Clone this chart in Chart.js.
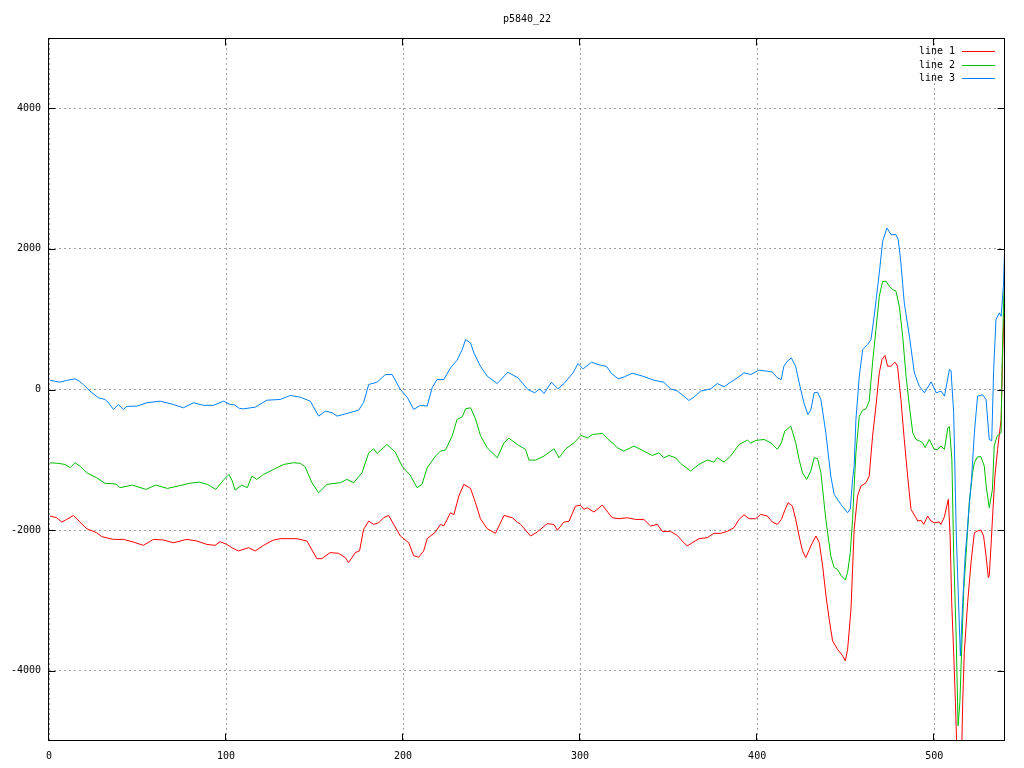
<!DOCTYPE html>
<html>
<head>
<meta charset="utf-8">
<title>p5840_22</title>
<script src="https://cdn.jsdelivr.net/npm/chart.js@4.4.1/dist/chart.umd.min.js"></script>
<style>
  html, body { margin: 0; padding: 0; background: #fff; }
  canvas { display: block; }
</style>
</head>
<body>
<canvas id="chart" width="1024" height="768"></canvas>
<script>
const chartTitle = 'p5840_22';
const seriesNames = ['line 1', 'line 2', 'line 3'];
const seriesColors = ['#ff0000', '#00c000', '#0080ff'];
const xTicks = [0, 100, 200, 300, 400, 500];
const yTicks = [-4000, -2000, 0, 2000, 4000];

// [x, y] pairs
const line1 = [
    [0.6, -1800], [4.4, -1824], [7.2, -1886], [10, -1848], [13.8, -1791], [17.5, -1886], [21.3, -1980],
    [26.9, -2037], [29.8, -2093], [36.4, -2132], [42, -2132], [47.7, -2170], [53.3, -2217], [59, -2132],
    [64.6, -2140], [70.3, -2180], [77.8, -2132], [83.5, -2155], [89.1, -2203], [93.8, -2217], [96.6, -2165],
    [100.4, -2203], [103.2, -2250], [107, -2297], [112.7, -2250], [116.5, -2297], [121.2, -2217], [126.8, -2141],
    [130.6, -2122], [136.3, -2122], [140, -2122], [145.7, -2155], [151.3, -2406], [154.1, -2406], [158.8, -2320],
    [163.5, -2330], [167.3, -2390], [169.2, -2463], [173, -2320], [175.4, -2297], [177.7, -1990], [180.6, -1871],
    [183.4, -1919], [186.2, -1895], [189, -1824], [191.9, -1791], [194.7, -1919], [198.5, -2084], [203.2, -2180],
    [206, -2363], [208.8, -2387], [211.6, -2297], [213.6, -2122], [218.3, -2027], [221.1, -1919], [223, -1940],
    [226.8, -1753], [228.7, -1780], [231.5, -1516], [234.3, -1350], [238.1, -1407], [240.9, -1610], [243.7, -1838],
    [247.5, -1980], [252.2, -2046], [257, -1791], [261.7, -1824], [264.5, -1886], [266.4, -1919], [272, -2084],
    [275.8, -2027], [281.4, -1909], [285.2, -1919], [287.1, -2004], [290.8, -1886], [293.7, -1876], [297.4, -1658],
    [300.3, -1649], [302.1, -1705], [304, -1682], [307.8, -1743], [312.5, -1644], [318.1, -1824], [321.9, -1838],
    [326.6, -1824], [331.3, -1848], [336, -1848], [339.8, -1942], [343.6, -1919], [346.4, -2018], [351.1, -2018],
    [354.8, -2075], [357.7, -2155], [360.5, -2226], [363.3, -2180], [367.1, -2122], [371.8, -2108], [375.6, -2046],
    [379.4, -2046], [383.1, -2018], [386.9, -1966], [389.8, -1848], [392.6, -1781], [395.4, -1838], [399.2, -1838],
    [402, -1776], [405.7, -1800], [408.6, -1886], [411.4, -1919], [413.7, -1848], [415.6, -1719], [417.5, -1610],
    [419.9, -1658], [421.8, -1848], [423.7, -2084], [425.6, -2297], [427.5, -2392], [430.3, -2226], [433.2, -2084],
    [435.1, -2179], [437, -2510], [438.9, -2937], [440.7, -3268], [442.6, -3576], [445.4, -3695], [448.3, -3790],
    [449.8, -3861], [451.1, -3695], [453, -3126], [453.9, -2558], [454.8, -1990], [456.7, -1516], [458.6, -1374],
    [461.5, -1326], [463.3, -1232], [465.2, -663], [467.1, -237], [469, 237], [470.5, 426], [472.2, 483],
    [473.7, 331], [475.6, 331], [477.9, 388], [479.3, 331], [481.2, -142], [483.1, -710], [485, -1232],
    [486.9, -1705], [489.7, -1824], [490.7, -1871], [492.6, -1860], [494.1, -1919], [496.3, -1800], [498.2, -1871],
    [500, -1895], [502.9, -1885], [503.8, -1919], [505.8, -1810], [507.1, -1658], [508, -1563], [509, -2084],
    [509.9, -3031], [511, -3742], [512, -4452], [513, -5300], [514.5, -5400], [515.5, -5200], [516.1, -4452],
    [517, -3742], [518.9, -3031], [520.8, -2463], [522.7, -2037], [524.5, -2013], [526.4, -2000], [527.9, -2084],
    [529.3, -2368], [530.6, -2676], [531.1, -2650], [532.1, -2226], [533, -1800], [534.3, -1232], [535.8, -853],
    [537.8, -426], [538.7, 521], [540, 1468]
];
const line2 = [
    [0.6, -1042], [5, -1050], [9.1, -1066], [11.9, -1113], [14.7, -1042], [17.5, -1090], [21.3, -1184],
    [26.9, -1255], [31.7, -1336], [36, -1340], [38.3, -1350], [40, -1397], [47.1, -1360], [54.7, -1421],
    [60.3, -1360], [66.9, -1407], [73.5, -1370], [79.2, -1336], [84.8, -1317], [89.5, -1350], [94.2, -1421],
    [98.9, -1279], [101.7, -1208], [103.5, -1300], [105.1, -1431], [108.9, -1360], [112, -1397], [114.6, -1232],
    [117.4, -1279], [121.2, -1208], [126.8, -1137], [132.5, -1066], [138.1, -1042], [141.9, -1050], [144.7, -1100],
    [148.5, -1326], [152.3, -1468], [157, -1350], [159.9, -1340], [164.6, -1326], [168.3, -1279], [172.1, -1326],
    [176.8, -1184], [180.6, -900], [183.4, -843], [185.3, -910], [190.9, -782], [195.6, -891], [199.4, -1090],
    [204.1, -1222], [207.9, -1397], [210.7, -1350], [213.6, -1113], [218.3, -947], [221.1, -876], [223.9, -862],
    [227.7, -663], [230.5, -426], [233.4, -388], [235.3, -275], [238.1, -260], [240.9, -417], [243.7, -654],
    [247.5, -829], [253.2, -971], [257, -758], [259.8, -692], [264.5, -782], [269.2, -852], [271.1, -1004],
    [274.9, -1004], [279.6, -947], [285.3, -843], [288.1, -971], [291.9, -843], [296.6, -758], [300.4, -654],
    [304.2, -687], [307, -640], [312.7, -625], [315.5, -701], [319.3, -782], [321, -829], [324.7, -876],
    [330.4, -805], [336, -876], [340.8, -938], [344.5, -900], [347.3, -971], [350.2, -938], [353.9, -971],
    [356.8, -1052], [362.4, -1160], [367.1, -1066], [371.8, -1004], [375.6, -1033], [377.5, -971], [381.3, -1033],
    [385, -947], [389.8, -782], [394.5, -720], [396.4, -763], [399.2, -725], [403.9, -711], [407.7, -758],
    [411.4, -852], [413.7, -758], [415.6, -592], [419, -521], [421.8, -758], [423.7, -995], [425.6, -1184],
    [428, -1279], [430.3, -1160], [432.2, -971], [434.1, -982], [436, -1184], [438.8, -1847], [441.6, -2368],
    [443.5, -2534], [445.4, -2558], [447.3, -2643], [449.8, -2709], [451.1, -2600], [452.6, -2321], [453.9, -1847],
    [454.8, -1374], [455.8, -900], [457.7, -379], [459.6, -294], [461.5, -275], [463.3, -166], [465.2, 379],
    [467.1, 853], [469, 1326], [470.9, 1539], [472.8, 1539], [474.7, 1468], [476.6, 1421], [478.4, 1400],
    [480.3, 1184], [482.2, 758], [484.1, 190], [486, -237], [487.9, -616], [489.7, -710], [491.6, -730],
    [493.5, -758], [494.9, -829], [497.2, -710], [499.1, -805], [500, -852], [502, -852], [503.8, -805],
    [505.8, -852], [507.7, -545], [508.6, -530], [510, -1000], [511, -2321], [512.4, -3505], [513.5, -4784],
    [514.5, -4452], [515.4, -3790], [516.7, -2842], [518.1, -2321], [519.8, -1610], [521.7, -1184], [522.7, -1042],
    [524.5, -957], [526.4, -957], [528.3, -1090], [529.5, -1400], [531.1, -1681], [532.9, -1421], [533.9, -805],
    [535.5, -663], [537.8, -616], [538.4, 379], [539.2, 1232], [540, 1752]
];
const line3 = [
    [0.6, 132], [3, 120], [6.2, 104], [10, 130], [14.7, 152], [17, 120], [19.4, 71], [23.2, -24], [27.9, -118],
    [31.7, -142], [34, -200], [36.4, -284], [39.2, -213], [42, -284], [44, -240], [49.6, -237], [55.2, -189],
    [62.8, -166], [70.3, -213], [75.9, -260], [81.6, -189], [87.3, -225], [92.9, -225], [98.6, -166], [102.3, -213],
    [105, -220], [107.6, -270], [109.9, -275], [116.5, -251], [123.1, -152], [130.6, -142], [136.3, -85],
    [141.9, -109], [147.6, -166], [152.3, -379], [156.1, -308], [159.9, -330], [162.7, -379], [168.3, -341],
    [174.9, -294], [177.7, -185], [180.6, 71], [185.3, 104], [190, 213], [193.8, 213], [198.5, 0], [202.3, -109],
    [206, -284], [209.8, -225], [213.6, -237], [216.4, 24], [219.2, 142], [223, 142], [226.8, 308], [230.5, 417],
    [233.4, 568], [235.3, 710], [238.1, 663], [240, 521], [243.7, 331], [247.5, 190], [253.2, 85], [259.2, 246],
    [264.9, 166], [270.5, 0], [274.3, -47], [277.1, 9], [279.6, -57], [283.8, 104], [287.5, 9], [291.3, 95],
    [296, 237], [298.8, 369], [301.7, 293], [306.4, 388], [312, 341], [314.9, 330], [317.7, 227], [321.5, 152],
    [325, 180], [329.4, 232], [336, 185], [341.7, 132], [347.3, 104], [351.1, 9], [354.8, -19], [358.6, -95],
    [361.4, -156], [364.3, -109], [368, -24], [373.7, 9], [377.5, 85], [381.3, 38], [385, 104], [388.8, 166],
    [392.6, 237], [396.4, 213], [401, 275], [405.7, 260], [408.6, 250], [411.4, 166], [413.6, 142], [415.1, 331],
    [417, 402], [419.3, 450], [421.7, 331], [424.6, 0], [426.5, -199], [428.7, -355], [430.3, -294], [432.2, -47],
    [434.1, -38], [436, -142], [438.8, -616], [441.6, -1232], [443.5, -1492], [447.3, -1634], [451.1, -1753],
    [452.6, -1700], [453.9, -1279], [454.8, -1090], [455.8, -426], [457.7, 190], [459.6, 568], [462.4, 639],
    [464.3, 710], [466.1, 1042], [469, 1658], [470.9, 2108], [473.3, 2297], [475.6, 2203], [478.4, 2203],
    [479.7, 2132], [481.2, 1800], [483.1, 1232], [486, 758], [488.8, 237], [491.6, 47], [494.5, -47], [498.3, 109],
    [501.1, -47], [503.9, -24], [505.8, -95], [508.6, 284], [509.5, 270], [511, -331], [512.5, -2084],
    [514.8, -3790], [516.1, -3031], [517.5, -2368], [519.8, -1658], [521.2, -1232], [522.7, -616], [524.5, -95],
    [527.4, -76], [529.3, -142], [531.1, -710], [532.5, -730], [533.6, 284], [534.9, 995], [536.8, 1090],
    [537.8, 1042], [539.1, 1468], [540, 2179]
];

const FONT = 'DejaVu Sans Mono';

function toPoints(arr) {
    return arr.map(p => ({ x: p[0], y: p[1] }));
}

// frame with inward tics, title and key, drawn like gnuplot does
const gnuplotLook = {
    id: 'gnuplotLook',
    afterDraw(chart) {
        const ctx = chart.ctx;
        const a = chart.chartArea;
        const xs = chart.scales.x;
        const ys = chart.scales.y;
        const l = Math.round(a.left) - 0.5;
        const r = Math.round(a.right) - 0.5;
        const t = Math.round(a.top) + 0.5;
        const b = Math.round(a.bottom) - 0.5;

        ctx.save();
        ctx.strokeStyle = '#000';
        ctx.lineWidth = 1;
        ctx.strokeRect(l, t, r - l, b - t);
        ctx.beginPath();
        xTicks.forEach(v => {
            const px = Math.round(xs.getPixelForValue(v)) - 0.5;
            ctx.moveTo(px, b); ctx.lineTo(px, b - 7);
            ctx.moveTo(px, t); ctx.lineTo(px, t + 7);
        });
        yTicks.forEach(v => {
            const py = Math.round(ys.getPixelForValue(v)) + 0.5;
            ctx.moveTo(l, py); ctx.lineTo(l + 7, py);
            ctx.moveTo(r, py); ctx.lineTo(r - 7, py);
        });
        ctx.stroke();

        ctx.font = '10px "' + FONT + '"';
        ctx.textBaseline = 'middle';
        ctx.textAlign = 'center';
        ctx.fillStyle = '#000';
        ctx.fillText(chartTitle, (a.left + a.right) / 2, 19);

        // key, top right inside the plot
        seriesNames.forEach((name, i) => {
            const y = Math.round(51 + i * 13.5) + 0.5;
            ctx.fillStyle = '#000';
            ctx.textAlign = 'right';
            ctx.fillText(name, a.right - 50, y);
            ctx.beginPath();
            ctx.strokeStyle = seriesColors[i];
            ctx.moveTo(a.right - 43, y);
            ctx.lineTo(a.right - 10, y);
            ctx.stroke();
        });
        ctx.restore();
    }
};

const datasets = [line1, line2, line3].map((arr, i) => ({
    label: seriesNames[i],
    data: toPoints(arr),
    borderColor: seriesColors[i],
    backgroundColor: seriesColors[i],
    borderWidth: 1,
    pointRadius: 0,
    tension: 0,
    fill: false,
    order: 3 - i
}));

new Chart(document.getElementById('chart').getContext('2d'), {
    type: 'line',
    data: { datasets: datasets },
    plugins: [gnuplotLook],
    options: {
        responsive: false,
        animation: false,
        layout: { padding: { top: 38, right: 19, left: 0, bottom: 0 } },
        plugins: {
            legend: { display: false },
            title: { display: false },
            tooltip: { enabled: false }
        },
        scales: {
            x: {
                type: 'linear',
                min: 0,
                max: 540,
                afterBuildTicks: scale => { scale.ticks = xTicks.map(v => ({ value: v })); },
                afterFit: scale => { scale.height = 27; },
                ticks: {
                    color: '#000',
                    font: { family: FONT, size: 10 },
                    padding: 9,
                    maxRotation: 0,
                    autoSkip: false,
                    callback: v => String(v)
                },
                grid: { color: '#a0a0a0', drawTicks: false, lineWidth: 1 },
                border: { display: false, dash: [2, 3] }
            },
            y: {
                type: 'linear',
                min: -5000,
                max: 5000,
                afterBuildTicks: scale => { scale.ticks = yTicks.map(v => ({ value: v })); },
                afterFit: scale => { scale.width = 49; },
                ticks: {
                    color: '#000',
                    font: { family: FONT, size: 10 },
                    padding: 8,
                    callback: v => String(v)
                },
                grid: { color: '#a0a0a0', drawTicks: false, lineWidth: 1 },
                border: { display: false, dash: [2, 3] }
            }
        }
    }
});
</script>
</body>
</html>
